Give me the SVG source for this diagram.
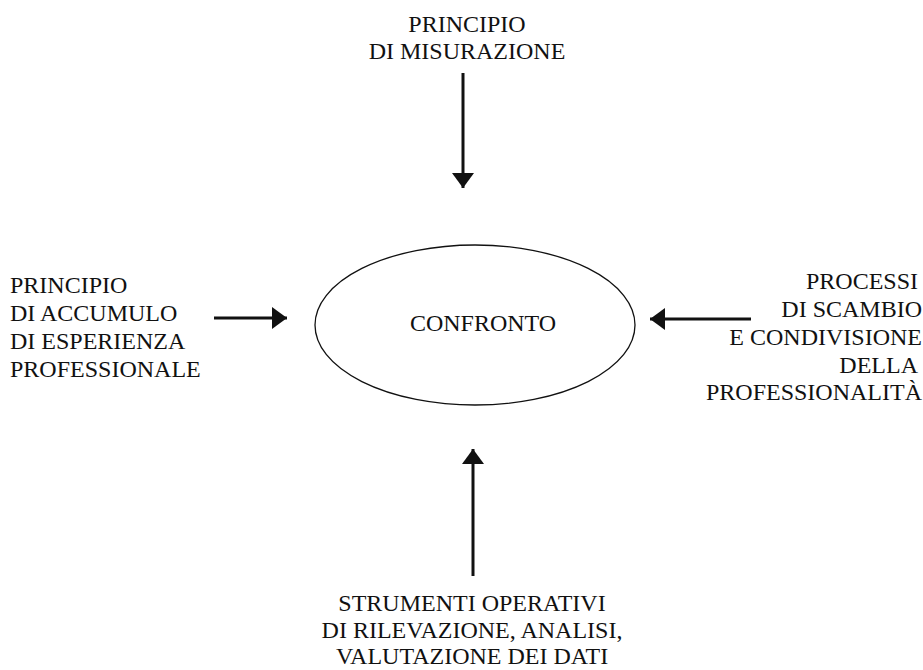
<svg xmlns="http://www.w3.org/2000/svg" width="923" height="670" viewBox="0 0 923 670" font-family="'Liberation Serif', 'DejaVu Serif', 'Times New Roman', serif">
<style>
text{font-family:'Liberation Serif','DejaVu Serif','Times New Roman',serif;font-size:24px;fill:#111}
.c{text-anchor:middle}
.e{text-anchor:end}
.ln{stroke:#111;stroke-width:3;fill:none}
</style>
<defs>
<marker id="ah" markerUnits="userSpaceOnUse" markerWidth="16" markerHeight="22" refX="15" refY="11" orient="auto">
<path d="M0,0 L15,11 L0,22 Z" fill="#111"/>
</marker>
</defs>
<rect width="923" height="670" fill="#fff"/>
<g id="connectors">
<line class="ln" x1="463" y1="73" x2="463" y2="188" marker-end="url(#ah)"/>
<line class="ln" x1="214" y1="318" x2="287" y2="318" marker-end="url(#ah)"/>
<line class="ln" x1="751" y1="319" x2="650" y2="319" marker-end="url(#ah)"/>
<line class="ln" x1="473" y1="576" x2="473" y2="449" marker-end="url(#ah)"/>
</g>
<g id="confronto">
<ellipse cx="475" cy="325" rx="160" ry="80" fill="none" stroke="#111" stroke-width="1.3"/>
<text class="c" x="483" y="331">CONFRONTO</text>
</g>
<g id="misurazione">
<text class="c" x="467" y="32">PRINCIPIO</text>
<text class="c" x="467" y="59">DI MISURAZIONE</text>
</g>
<g id="accumulo">
<text x="10" y="293">PRINCIPIO</text>
<text x="10" y="321">DI ACCUMULO</text>
<text x="10" y="349">DI ESPERIENZA</text>
<text x="10" y="377">PROFESSIONALE</text>
</g>
<g id="scambio">
<text class="e" x="918" y="289">PROCESSI</text>
<text class="e" x="922" y="317">DI SCAMBIO</text>
<text class="e" x="922" y="345">E CONDIVISIONE</text>
<text class="e" x="918" y="373">DELLA</text>
<text class="e" x="922" y="400">PROFESSIONALITÀ</text>
</g>
<g id="strumenti">
<text class="c" x="472" y="611">STRUMENTI OPERATIVI</text>
<text class="c" x="472" y="638">DI RILEVAZIONE, ANALISI,</text>
<text class="c" x="472" y="664">VALUTAZIONE DEI DATI</text>
</g>
</svg>
